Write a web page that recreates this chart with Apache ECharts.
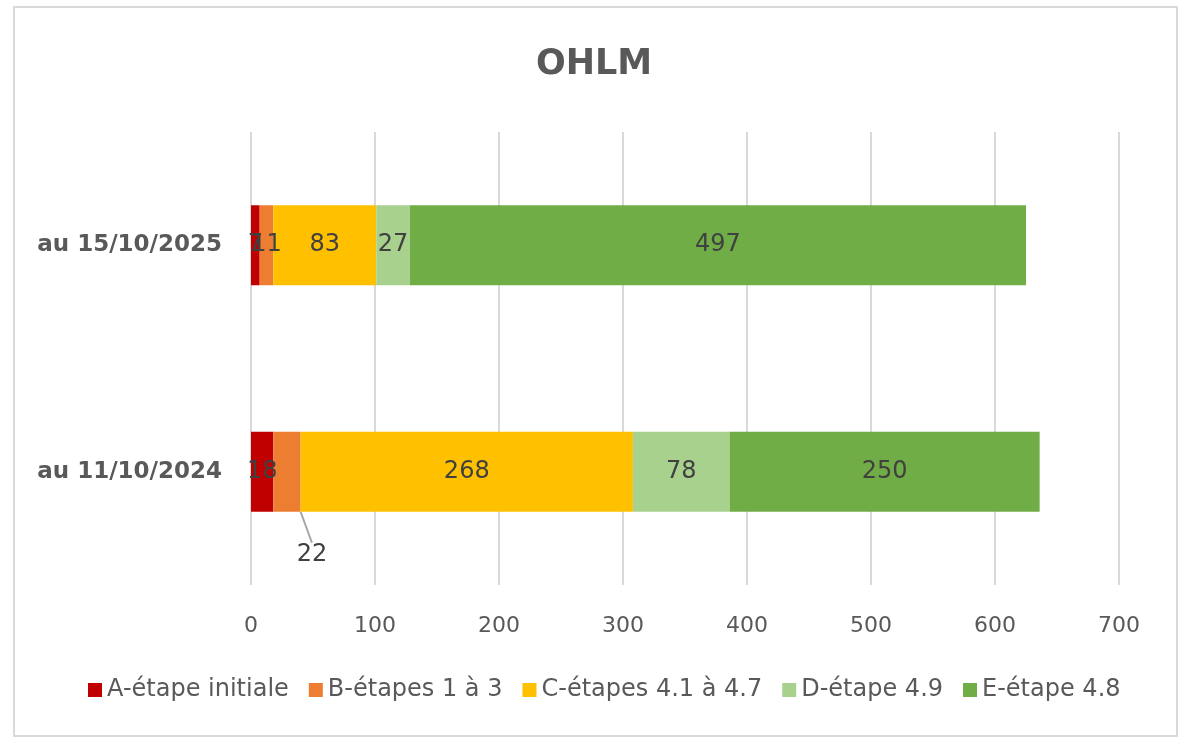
<!DOCTYPE html>
<html><head><meta charset="utf-8">
<script src="https://cdn.jsdelivr.net/npm/echarts@6/dist/echarts.min.js"></script>
<style>html,body{margin:0;padding:0;background:#fff}#c{width:1188px;height:741px}</style>
</head><body><div id="c"></div>
<script>
const categories = ['au 11/10/2024', 'au 15/10/2025'];
const seriesNames = ['A-étape initiale', 'B-étapes 1 à 3', 'C-étapes 4.1 à 4.7', 'D-étape 4.9', 'E-étape 4.8'];
const seriesA = [18, 7];
const seriesB = [22, 11];
const seriesC = [268, 83];
const seriesD = [78, 27];
const seriesE = [250, 497];
const xTicks = [0, 100, 200, 300, 400, 500, 600, 700];
const colors = ['#C00000', '#ED7D31', '#FFC000', '#A9D18E', '#70AD47'];

const FONT = '"DejaVu Sans", sans-serif';
const chart = echarts.init(document.getElementById('c'));
const allData = [seriesA, seriesB, seriesC, seriesD, seriesE];
const series = allData.map((d, i) => ({
  name: seriesNames[i],
  type: 'bar',
  stack: 'total',
  barWidth: 80,
  data: d,
  itemStyle: { color: colors[i] },
  label: { show: true, position: 'inside', color: '#404040', fontSize: 24, fontFamily: FONT },
  labelLine: { show: i === 1, lineStyle: { color: '#a6a6a6', width: 2 } },
  labelLayout: i === 1 ? function (p) { return p.dataIndex === 0 ? { dx: 25, dy: 83 } : {}; } : undefined
}));
chart.setOption({
  animation: false,
  title: { text: 'OHLM', left: 'center', top: 42, textStyle: { fontSize: 35, fontWeight: 'bold', color: '#595959', fontFamily: FONT } },
  grid: { left: 251, right: 69, top: 132, bottom: 156, containLabel: false },
  xAxis: {
    type: 'value', min: 0, max: 700, interval: 100,
    axisLine: { show: false }, axisTick: { show: false },
    splitLine: { show: true, lineStyle: { color: '#d9d9d9', width: 2 } },
    axisLabel: { fontSize: 22, color: '#595959', margin: 30, fontFamily: FONT }
  },
  yAxis: {
    type: 'category', data: categories,
    axisLine: { show: false }, axisTick: { show: false },
    axisLabel: { fontSize: 23, fontWeight: 'bold', color: '#595959', margin: 29, fontFamily: FONT }
  },
  legend: {
    data: seriesNames, bottom: 34, left: 83, itemWidth: 14, itemHeight: 14, itemGap: 20,
    icon: 'rect', textStyle: { fontSize: 24, color: '#595959', fontFamily: FONT }
  },
  graphic: [{ type: 'rect', shape: { x: 14, y: 7, width: 1163, height: 729 }, style: { fill: 'none', stroke: '#d9d9d9', lineWidth: 2 }, silent: true }],
  series: series
});
</script></body></html>
